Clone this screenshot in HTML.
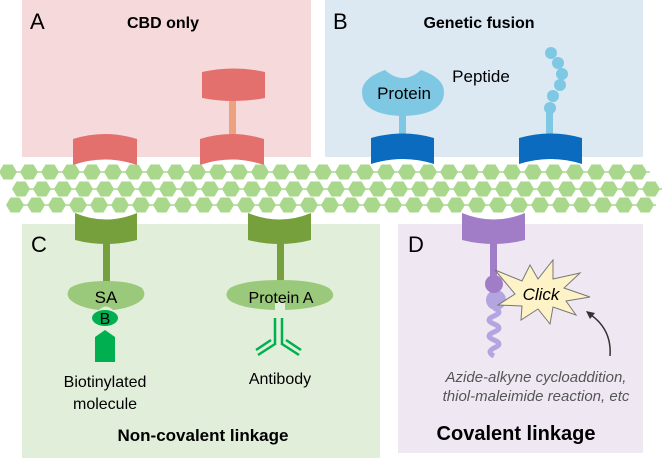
<!DOCTYPE html>
<html><head><meta charset="utf-8"><style>
html,body{margin:0;padding:0;background:#fff}
svg{display:block;font-family:"Liberation Sans",Arial,sans-serif}
</style></head><body>
<svg id="s" width="669" height="458" viewBox="0 0 669 458" xmlns="http://www.w3.org/2000/svg">
<rect x="22" y="0" width="289" height="157" fill="#f6d9da"/>
<rect x="325" y="0" width="318" height="157" fill="#dce9f3"/>
<rect x="22" y="224" width="358" height="234" fill="#e1eed9"/>
<rect x="398" y="224" width="245" height="229" fill="#efe8f3"/>

<text x="30" y="29" font-size="22">A</text>
<text x="163" y="28" font-size="16" font-weight="bold" text-anchor="middle">CBD only</text>
<text x="333" y="29" font-size="22">B</text>
<text x="479" y="28" font-size="16" font-weight="bold" text-anchor="middle">Genetic fusion</text>
<text x="31" y="252" font-size="22">C</text>
<text x="408" y="252" font-size="22">D</text>

<!-- A -->
<path d="M73,139 Q105,129 137,139 L137,165 Q105,154 73,165 Z" fill="#e4706d"/>
<path d="M200,139 Q232,129 264,139 L264,165 Q232,154 200,165 Z" fill="#e4706d"/>
<path d="M202,72 Q234,65 265,72 L265,98 Q234,104 202,98 Z" fill="#e4706d"/>
<rect x="229" y="101" width="7" height="33" fill="#eda27f"/>

<!-- B -->
<rect x="399" y="112" width="7" height="22" fill="#7ec8e3"/>
<path d="M385,70 Q403,86 421,70 Q444,78 444,92 Q444,115 403,116 Q362,115 362,92 Q362,78 385,70 Z" fill="#7ec8e3"/>
<text x="404" y="99" font-size="17" text-anchor="middle">Protein</text>
<path d="M371,138 Q403,129 434,138 L434,164 Q403,154 371,164 Z" fill="#0b6cbf"/>
<rect x="546" y="107" width="7" height="27" fill="#7ec8e3"/>
<g fill="#7ec8e3"><circle cx="550" cy="108" r="6"/><circle cx="553" cy="96" r="6"/><circle cx="560" cy="85" r="6"/><circle cx="562" cy="74" r="6"/><circle cx="558" cy="63" r="6"/><circle cx="551" cy="53" r="6"/></g>
<text x="481" y="82" font-size="17" text-anchor="middle">Peptide</text>
<path d="M519,138 Q551,129 582,138 L582,164 Q551,154 519,164 Z" fill="#0b6cbf"/>

<!-- C -->
<path d="M75,213 Q106,226 137,213 L137,240 Q106,248 75,240 Z" fill="#76a03b"/>
<rect x="103" y="243" width="7" height="40" fill="#76a03b"/>
<path d="M99,310 Q82,308 73,302 Q64,296 70,288 Q80,281 106,281 Q132,281 142,288 Q148,296 139,302 Q130,308 113,310 Q106,303 99,310 Z" fill="#9bc97b"/>
<text x="106" y="303" font-size="17" text-anchor="middle">SA</text>
<ellipse cx="105" cy="318" rx="13" ry="8" fill="#00b050"/>
<text x="105" y="324" font-size="16" text-anchor="middle">B</text>
<path d="M95,337 L105,330 L115,337 L115,362 L95,362 Z" fill="#00b050"/>
<text x="105" y="387" font-size="16" text-anchor="middle">Biotinylated</text>
<text x="105" y="409" font-size="16" text-anchor="middle">molecule</text>

<path d="M248,213 Q280,226 311,213 L311,240 Q280,248 248,240 Z" fill="#76a03b"/>
<rect x="277" y="243" width="7" height="38" fill="#76a03b"/>
<path d="M275,310 Q245,309 232,302 Q222,296 230,288 Q245,280 280,280 Q315,280 329,288 Q338,296 328,302 Q314,309 285,310 L285,302 L275,302 Z" fill="#9bc97b"/>
<text x="281" y="303" font-size="16" text-anchor="middle">Protein  A</text>
<g stroke="#00b050" stroke-width="2.5" fill="none">
<line x1="275" y1="318" x2="275" y2="345"/><line x1="282" y1="318" x2="282" y2="345"/>
<line x1="275" y1="344" x2="258" y2="355"/><line x1="271" y1="340" x2="256" y2="350"/>
<line x1="282" y1="344" x2="299" y2="355"/><line x1="286" y1="340" x2="301" y2="350"/>
</g>
<text x="280" y="384" font-size="16" text-anchor="middle">Antibody</text>
<text x="203" y="441" font-size="17" font-weight="bold" text-anchor="middle">Non-covalent linkage</text>

<!-- D -->
<path d="M462,213 Q494,226 525,213 L525,240 Q494,248 462,240 Z" fill="#a17cc7"/>
<rect x="490" y="243" width="7" height="40" fill="#a17cc7"/>
<circle cx="496" cy="300" r="10" fill="#b3a6e0"/>
<path d="M494,308 q10,4 0,8 q-10,4 0,8 q10,4 0,8 q-10,4 0,8 q10,4 0,8 q-8,4 0,8" stroke="#b3a6e0" stroke-width="5" fill="none"/>
<circle cx="494" cy="284" r="9" fill="#a17cc7"/>
<path d="M495,270 L522,281 L530,265 L538,279 L553,260 L553,279 L580,273 L564,288 L590,297 L566,301 L576,315 L553,307 L550,324 L538,309 L521,320 L522,306 L498,305 L515,294 Z" fill="#fdf3c6" stroke="#777" stroke-width="1"/>
<text x="541" y="300" font-size="17" font-style="italic" text-anchor="middle">Click</text>
<path d="M610,356 Q612,328 588,313" stroke="#333" stroke-width="1.5" fill="none"/>
<path d="M586,311 L595,313 L590,319 Z" fill="#333"/>
<text x="536" y="382" font-size="15" font-style="italic" fill="#555" text-anchor="middle">Azide-alkyne cycloaddition,</text>
<text x="536" y="401" font-size="15" font-style="italic" fill="#555" text-anchor="middle">thiol-maleimide reaction, etc</text>
<text x="516" y="440" font-size="20" font-weight="bold" text-anchor="middle">Covalent linkage</text>

<g id="fib"></g>
</svg>
<script>
var g=document.getElementById('fib'),h='';
function row(x0,y,xe){h+='<line x1="'+x0+'" y1="'+y+'" x2="'+xe+'" y2="'+y+'" stroke="#a9d88c" stroke-width="1.5"/>';
for(var x=x0;x<=xe;x+=21){h+='<polygon fill="#a9d88c" points="'+(x-9)+','+y+' '+(x-4.5)+','+(y-7.5)+' '+(x+4.5)+','+(y-7.5)+' '+(x+9)+','+y+' '+(x+4.5)+','+(y+7.5)+' '+(x-4.5)+','+(y+7.5)+'"/>';}}
row(8,172,650);row(21,189,662);row(15,205,656);
g.innerHTML=h;
</script>
</body></html>
